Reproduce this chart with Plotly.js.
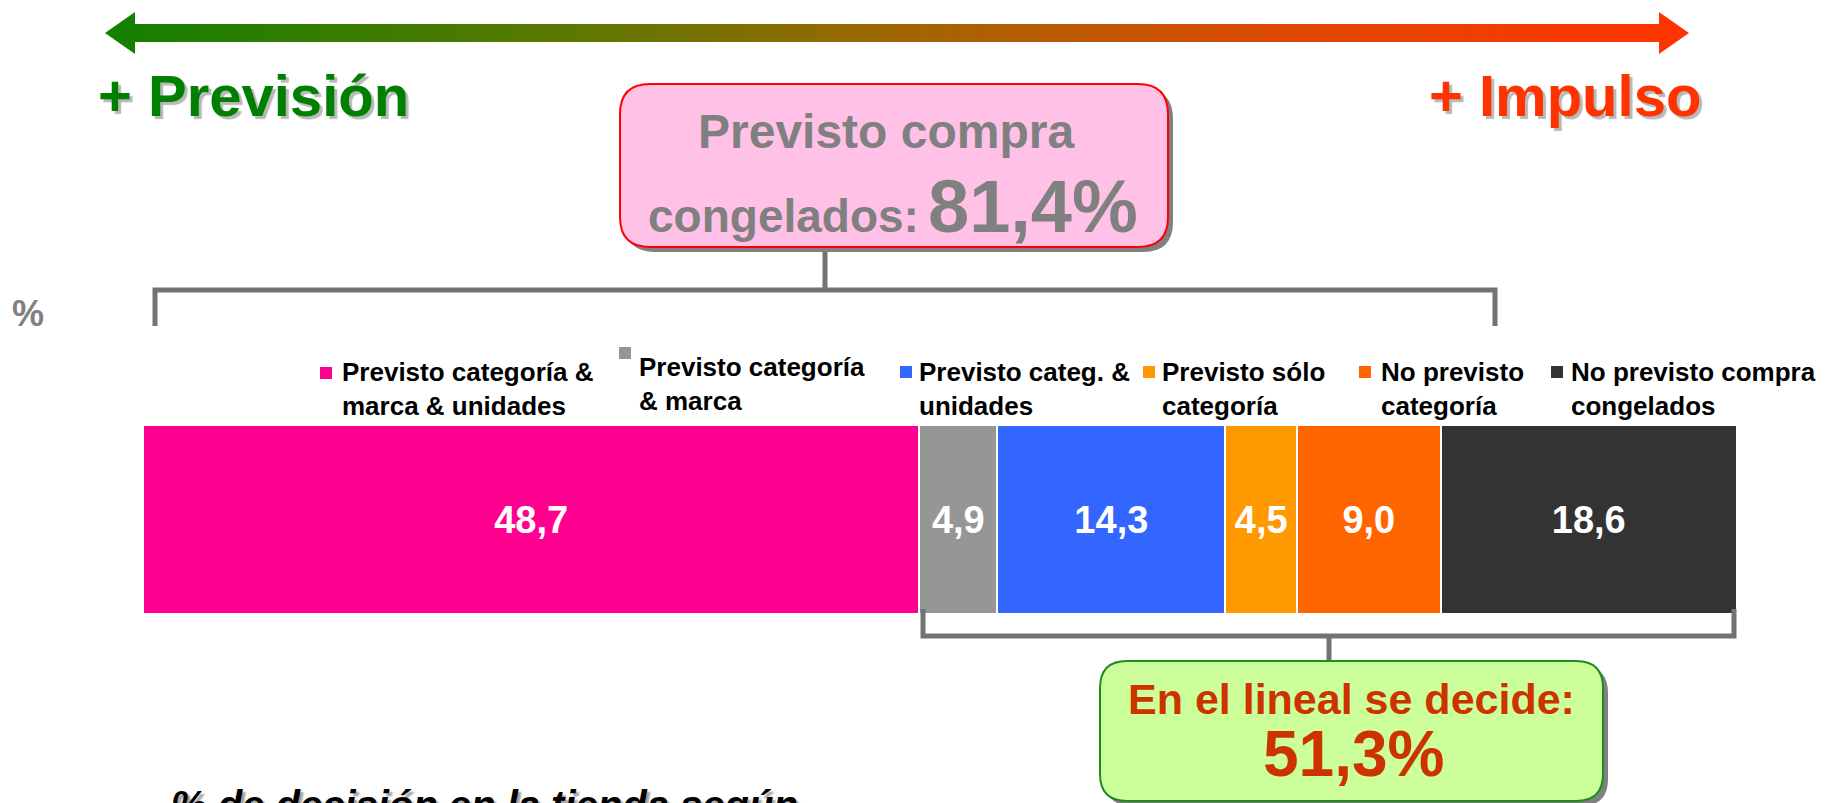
<!DOCTYPE html>
<html>
<head>
<meta charset="utf-8">
<script src="https://cdn.plot.ly/plotly-3.0.1.min.js"></script>
<style>
  html, body { margin: 0; padding: 0; background: #ffffff; }
  #chart { width: 1827px; height: 803px; }
</style>
</head>
<body>
<div id="chart"></div>
<script>
// ---------------- DATA ----------------
const categories = [
  'Previsto categoría &<br>marca & unidades',
  'Previsto categoría<br>& marca',
  'Previsto categ. &<br>unidades',
  'Previsto sólo<br>categoría',
  'No previsto<br>categoría',
  'No previsto compra<br>congelados'
];
const values = [48.7, 4.9, 14.3, 4.5, 9.0, 18.6];
const rowLabel = ['%'];
const plannedLabel = ['Previsto compra', 'congelados:'];
const plannedTotal = 81.4;
const shelfLabel = 'En el lineal se decide:';
const shelfTotal = 51.3;
const leftLabel = '+ Previsión';
const rightLabel = '+ Impulso';
const footLabel = '% de decisión en la tienda según';

// ---------------- STYLE ----------------
const colors = ['#ff0090', '#969696', '#3366ff', '#ff9900', '#ff6600', '#333333'];
const W = 1827, H = 803;
const FONT = 'Liberation Sans, Arial, Helvetica, sans-serif';
const X = p => p / W;
const Y = p => 1 - p / H;
const fmt = v => v.toFixed(1).replace('.', ',') ;

// legend layout (pixel positions)
const legSquareX = [320, 619, 900, 1143, 1359, 1551];
const legSquareY = [367, 347, 366, 366, 366, 366];
const legTextX = [341, 638, 918, 1161, 1380, 1570];
const legTextY = [389, 384, 389, 389, 389, 389];

// ---------------- TRACES ----------------
const traces = values.map((v, i) => ({
  type: 'bar',
  orientation: 'h',
  x: [v],
  y: rowLabel,
  name: categories[i],
  marker: { color: colors[i], line: { color: '#ffffff', width: 2 } },
  text: [fmt(v)],
  textposition: 'inside',
  insidetextanchor: 'middle',
  textangle: 0,
  constraintext: 'none',
  textfont: { family: FONT, size: 38, color: '#ffffff', weight: 'bold' },
  hoverinfo: 'skip',
  showlegend: false,
  xaxis: 'x', yaxis: 'y'
}));

// gradient arrow on a full-page pixel axis
const arrowX = [105, 135, 135, 1659, 1659, 1689, 1659, 1659, 135, 135, 105];
const arrowY = [33, 12, 24, 24, 12, 33, 54, 42, 42, 54, 33];
traces.push({
  type: 'scatter',
  x: arrowX, y: arrowY,
  xaxis: 'x2', yaxis: 'y2',
  mode: 'lines',
  line: { width: 0, color: 'rgba(0,0,0,0)' },
  fill: 'toself',
  fillcolor: '#8a6a00',
  fillgradient: {
    type: 'horizontal',
    colorscale: [[0, '#128000'], [0.3, '#5e7800'], [0.5, '#a06600'], [0.75, '#e04800'], [1, '#ff3300']]
  },
  hoverinfo: 'skip',
  showlegend: false
});

// ---------------- SHAPES ----------------
function rrect(x0, y0, x1, y1, r) {
  return `M ${X(x0 + r)},${Y(y0)} L ${X(x1 - r)},${Y(y0)} Q ${X(x1)},${Y(y0)} ${X(x1)},${Y(y0 + r)} ` +
         `L ${X(x1)},${Y(y1 - r)} Q ${X(x1)},${Y(y1)} ${X(x1 - r)},${Y(y1)} ` +
         `L ${X(x0 + r)},${Y(y1)} Q ${X(x0)},${Y(y1)} ${X(x0)},${Y(y1 - r)} ` +
         `L ${X(x0)},${Y(y0 + r)} Q ${X(x0)},${Y(y0)} ${X(x0 + r)},${Y(y0)} Z`;
}
function poly(pts) {
  return 'M ' + pts.map(p => `${X(p[0])},${Y(p[1])}`).join(' L ');
}
const shapes = [];
const bracketColor = '#737373';
// top bracket
shapes.push({ type: 'path', xref: 'paper', yref: 'paper',
  path: poly([[155, 326], [155, 290], [1495, 290], [1495, 326]]),
  line: { color: bracketColor, width: 5 }, fillcolor: 'rgba(0,0,0,0)' });
shapes.push({ type: 'path', xref: 'paper', yref: 'paper',
  path: poly([[825, 247], [825, 290]]), line: { color: bracketColor, width: 5 } });
// bottom bracket
shapes.push({ type: 'path', xref: 'paper', yref: 'paper',
  path: poly([[923, 609], [923, 636], [1734, 636], [1734, 609]]),
  line: { color: bracketColor, width: 5 }, fillcolor: 'rgba(0,0,0,0)' });
shapes.push({ type: 'path', xref: 'paper', yref: 'paper',
  path: poly([[1329, 636], [1329, 662]]), line: { color: bracketColor, width: 5 } });
// pink callout
shapes.push({ type: 'path', xref: 'paper', yref: 'paper',
  path: rrect(625, 89, 1173, 252, 30), fillcolor: '#808080', line: { width: 0 } });
shapes.push({ type: 'path', xref: 'paper', yref: 'paper',
  path: rrect(620, 84, 1168, 247, 30), fillcolor: '#ffc1e6', line: { color: '#ff0000', width: 2 } });
// green callout
shapes.push({ type: 'path', xref: 'paper', yref: 'paper',
  path: rrect(1105, 666, 1608, 806, 27), fillcolor: '#808080', line: { width: 0 } });
shapes.push({ type: 'path', xref: 'paper', yref: 'paper',
  path: rrect(1100, 661, 1603, 801, 27), fillcolor: '#ccff99', line: { color: '#1f8a1f', width: 2 } });
// legend squares
values.forEach((v, i) => {
  shapes.push({ type: 'rect', xref: 'paper', yref: 'paper',
    x0: X(legSquareX[i]), x1: X(legSquareX[i] + 12),
    y0: Y(legSquareY[i] + 12), y1: Y(legSquareY[i]),
    fillcolor: colors[i], line: { width: 0 } });
});

// ---------------- ANNOTATIONS ----------------
function ann(text, x, y, font, xanchor, yanchor, extra) {
  return Object.assign({
    text: text, x: X(x), y: Y(y), xref: 'paper', yref: 'paper',
    showarrow: false, xanchor: xanchor || 'center', yanchor: yanchor || 'middle',
    font: Object.assign({ family: FONT, weight: 'bold' }, font), borderpad: 0
  }, extra || {});
}
const annotations = [];
annotations.push(ann(leftLabel, 97, 95, { size: 58, color: '#008000', shadow: '3px 3px 1px #b8b8b8' }, 'left'));
annotations.push(ann(rightLabel, 1565, 95, { size: 58, color: '#ff3300', shadow: '3px 3px 1px #b8b8b8' }, 'center'));
annotations.push(ann(plannedLabel[0], 886, 131, { size: 48, color: '#808080' }, 'center'));
annotations.push(ann(plannedLabel[1], 920, 216, { size: 46, color: '#808080' }, 'right'));
annotations.push(ann(fmt(plannedTotal) + '%', 927, 206, { size: 74, color: '#808080' }, 'left'));
annotations.push(ann(rowLabel[0], 28, 313, { size: 36, color: '#808080' }, 'center'));
categories.forEach((c, i) => {
  annotations.push(ann(c, legTextX[i], legTextY[i], { size: 26, color: '#000000' }, 'left', 'middle', { align: 'left' }));
});
annotations.push(ann(shelfLabel, 1351, 699, { size: 43, color: '#cc3300' }, 'center'));
annotations.push(ann(fmt(shelfTotal) + '%', 1353, 754, { size: 64, color: '#cc3300' }, 'center'));
annotations.push(ann(footLabel, 170, 805, { size: 40, color: '#000000', style: 'italic', shadow: '3px 3px 2px #a0a0a0' }, 'left'));

// ---------------- LAYOUT ----------------
const layout = {
  width: W, height: H,
  margin: { l: 0, r: 0, t: 0, b: 0, pad: 0 },
  paper_bgcolor: '#ffffff', plot_bgcolor: 'rgba(0,0,0,0)',
  barmode: 'stack', bargap: 0,
  showlegend: false,
  font: { family: FONT },
  xaxis: { domain: [X(143), X(1737)], range: [0, 100], visible: false, fixedrange: true, anchor: 'y' },
  yaxis: { domain: [Y(614), Y(425)], type: 'category', range: [-0.5, 0.5], visible: false, fixedrange: true, anchor: 'x' },
  xaxis2: { domain: [0, 1], range: [0, W], visible: false, fixedrange: true, anchor: 'y2' },
  yaxis2: { domain: [0, 1], range: [H, 0], visible: false, fixedrange: true, anchor: 'x2' },
  shapes: shapes,
  annotations: annotations
};

Plotly.newPlot('chart', traces, layout, { displayModeBar: false, staticPlot: true });
</script>
</body>
</html>
